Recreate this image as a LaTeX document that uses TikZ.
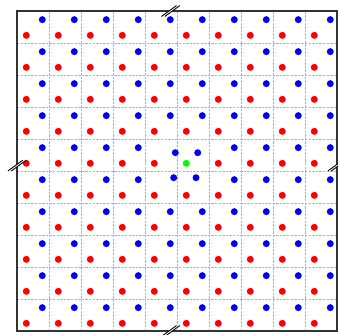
\documentclass[tikz,border=0pt]{standalone}
\usepackage{tikz}
\usetikzlibrary{calc}

\definecolor{siteA}{RGB}{0,0,255}
\definecolor{siteB}{RGB}{255,0,0}
\definecolor{defect}{RGB}{0,255,0}

\tikzset{
  site/.style={circle,inner sep=0pt,minimum size=6.2pt},
  cellline/.style={gray!60,line width=0.7pt,dash pattern=on 2.2pt off 1pt},
  breakmark/.style={line width=0.8pt},
}
% break mark on the frame
\newcommand{\brk}[1]{%
  \fill[white] ($#1+(-0.285,-0.17)$)--($#1+(0.185,0.17)$)--($#1+(0.29,0.17)$)--($#1+(-0.18,-0.17)$)--cycle;
  \draw[breakmark] ($#1+(-0.285,-0.17)$)--($#1+(0.185,0.17)$);
  \draw[breakmark] ($#1+(-0.18,-0.17)$)--($#1+(0.29,0.17)$);
}

\begin{document}
\begin{tikzpicture}[line width=0.9pt]
  \useasboundingbox (-0.53125,-0.125) rectangle (10.03125,10.34375);
  % unit cells
  \foreach \i in {1,...,9}{
    \draw[cellline] (\i,0)--(\i,10);
    \draw[cellline] (0,\i)--(10,\i);
  }
  \draw[line width=1.4pt,black!80] (0,0) rectangle (10,10);
  % two sublattices, the four sites round the defect are shifted
  \foreach \i in {0,...,9}{
    \foreach \j in {0,...,9}{
      \pgfmathtruncatemacro{\near}{(\i==4 || \i==5) && (\j==4 || \j==5)}
      \ifnum\near=0
        \node[site,fill=siteA] at (\i+0.79,\j+0.73) {};
      \fi
      \pgfmathtruncatemacro{\hole}{\i==5 && \j==5}
      \ifnum\hole=0
        \node[site,fill=siteB] at (\i+0.29,\j+0.24) {};
      \fi
    }
  }
  \node[site,fill=siteA] (a1) at (4.947,5.572) {};
  \node[site,fill=siteA] (a2) at (5.647,5.572) {};
  \node[site,fill=siteA] (a3) at (4.897,4.791) {};
  \node[site,fill=siteA] (a4) at (5.594,4.791) {};
  \node[site,fill=defect] (g) at (5.29,5.24) {};
  % periodic boundary
  \brk{(4.8,10)}
  \brk{(4.8,0)}
  \brk{(0,5.17)}
  \brk{(10,5.17)}
\end{tikzpicture}
\end{document}
